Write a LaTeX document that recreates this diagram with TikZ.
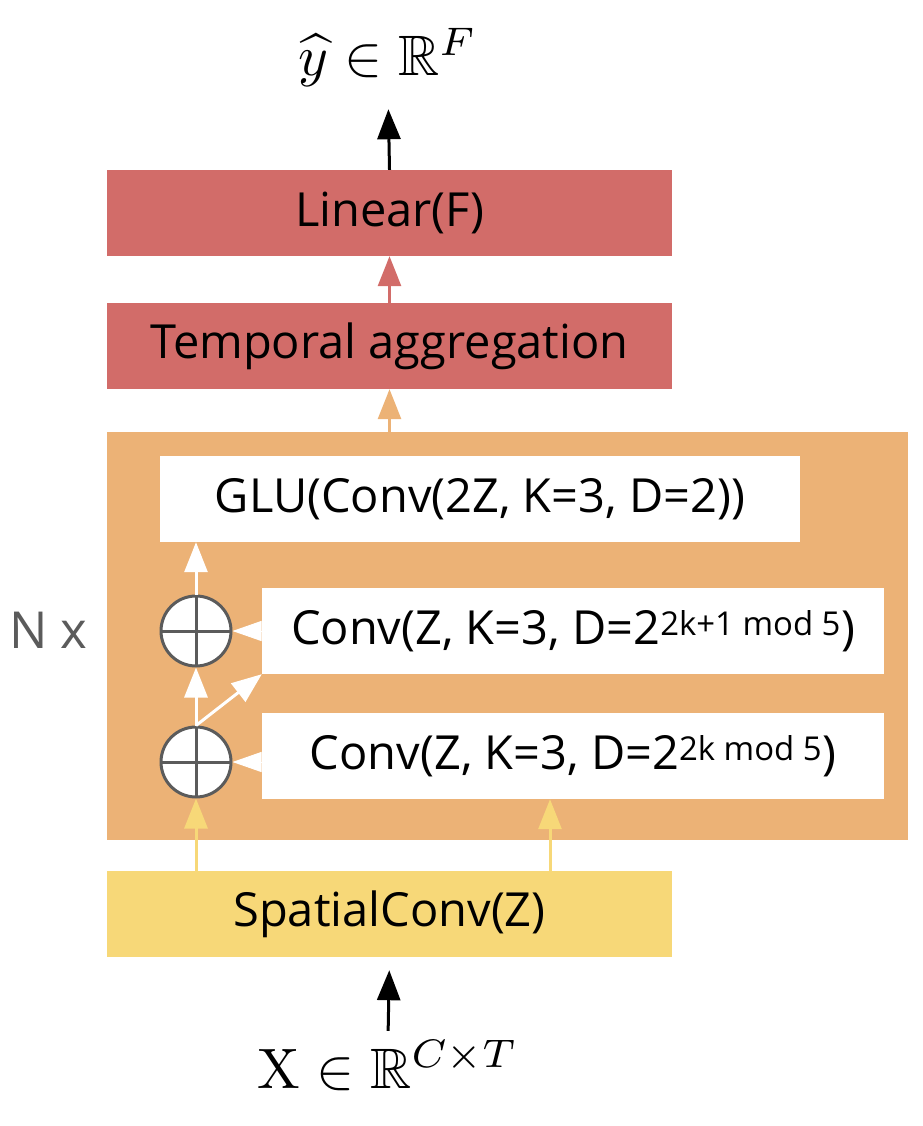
\documentclass[tikz,border=0pt]{standalone}
\usepackage[no-math]{fontspec}
\usepackage{amsmath,amssymb}
\usetikzlibrary{arrows.meta}
\setmainfont{Open Sans}
\definecolor{linred}{HTML}{D26C69}
\definecolor{blockorange}{HTML}{ECB276}
\definecolor{spatyellow}{HTML}{F7D878}
\definecolor{addgray}{HTML}{5B5B5B}
\newcommand{\boxfont}{\fontsize{47}{52}\selectfont}

\begin{document}
\begin{tikzpicture}[x=1pt, y=-1pt,
    layer/.style={rectangle, inner sep=0pt, minimum width=565pt, minimum height=86pt, font=\boxfont},
    convbox/.style={rectangle, fill=white, inner sep=0pt, minimum height=86pt, font=\boxfont},
    addnode/.style={circle, draw=addgray, line width=3pt, fill=white, minimum size=70pt, inner sep=0pt,
        path picture={\draw[addgray, line width=3pt] (path picture bounding box.north) -- (path picture bounding box.south)
            (path picture bounding box.west) -- (path picture bounding box.east);}},
    mathlabel/.style={inner sep=0pt, anchor=base, scale=5.7},
    arr/.style={-{Triangle[length=30pt, width=23pt]}, line width=3pt},
    tip/.style={-{Triangle[length=29pt, width=20pt]}, line width=1pt}]
    \useasboundingbox (0,0) rectangle (922,1126);
    \node[layer, fill=linred] (linear) at (389.5,213) {Linear(F)};
    \node[layer, fill=linred] (temporal) at (389.5,346) {Temporal aggregation};
    \node[rectangle, fill=blockorange, minimum width=801pt, minimum height=408pt] (block) at (507.5,636) {};
    \node[convbox, minimum width=640pt] (glu) at (480,499) {GLU(Conv(2Z, K=3, D=2))};
    \node[convbox, minimum width=622pt] (convtop) at (573,631) {Conv(Z, K=3, D=2\textsuperscript{2k+1 mod 5})};
    \node[convbox, minimum width=622pt] (convbot) at (573,756) {Conv(Z, K=3, D=2\textsuperscript{2k mod 5})};
    \node[layer, fill=spatyellow] (spatial) at (389.5,914) {SpatialConv(Z)};
    \node[addnode] (addtop) at (196,631) {};
    \node[addnode] (addbot) at (196,762) {};
    \node[mathlabel] (yhat) at (388,76) {$\widehat{y} \in \mathbb{R}^F$};
    \node[mathlabel] (xin) at (388,1088) {$\mathrm{X} \in \mathbb{R}^{C\times T}$};
    \node[font=\fontsize{51}{56}\selectfont, text=addgray, inner sep=0pt, anchor=west] (nx) at (9,630) {N x};
    \coordinate (skip) at (550,0);
    % connectors
    \draw[arr] (linear.north) -- (yhat.south) [shorten >=21pt];
    \draw[arr, linred] (temporal.north) -- (linear.south);
    \draw[arr, blockorange] (block.north -| temporal) -- (temporal.south);
    \draw[arr, white] (addtop.north) -- (glu.south -| addtop);
    \draw[arr, white] (addbot.north) -- (addtop.south);
    \draw[arr, white] (addbot.north) -- (convtop.south west);
    \draw[tip, white] (convtop.west) -- (addtop.east);
    \draw[tip, white] (convbot.west |- addbot) -- (addbot.east);
    \draw[arr, spatyellow] (spatial.north -| addbot) -- (addbot.south);
    \draw[arr, spatyellow] (spatial.north -| skip) -- (convbot.south -| skip);
    \draw[arr, shorten <=8pt, shorten >=13pt] (xin.north) -- (spatial.south);
\end{tikzpicture}
\end{document}
